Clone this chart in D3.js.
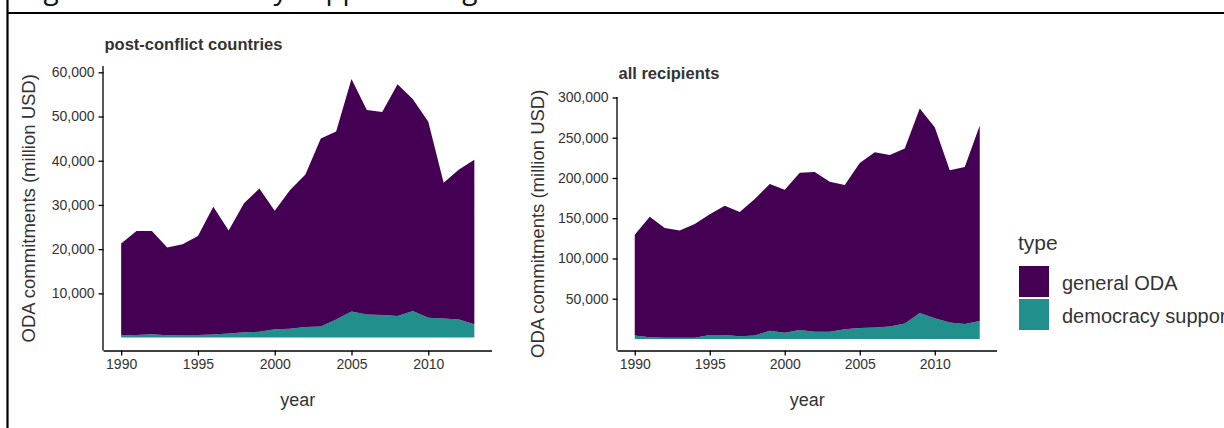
<!DOCTYPE html>
<html><head><meta charset="utf-8">
<script src="https://cdn.jsdelivr.net/npm/d3@7"></script>
<style>
body{margin:0;background:#fff;}
svg{display:block;font-family:"Liberation Sans",Arial,sans-serif;}
</style>
</head><body>
<svg id="chart" width="1224" height="428"></svg>
<script>
// ---------- data ----------
const years = [1990,1991,1992,1993,1994,1995,1996,1997,1998,1999,2000,2001,
               2002,2003,2004,2005,2006,2007,2008,2009,2010,2011,2012,2013];
const types = ["general ODA", "democracy support"];
// post-conflict countries (million USD)
const postGeneral   = [20850,23500,23350,19900,20500,22400,28900,23300,29200,32400,26800,31400,
                       34500,42500,42500,52600,46300,45900,52400,47900,44300,30700,33900,37200];
const postDemocracy = [450,600,750,500,600,600,700,900,1200,1300,1900,2000,
                       2400,2500,4100,5900,5200,5100,4900,6000,4500,4300,4100,3000];
// all recipients (million USD)
const allGeneral    = [125100,149600,136300,133400,141200,150000,160800,154200,169500,182300,177800,195600,
                       198600,186500,179100,205200,217700,213000,217200,254100,237200,189000,195200,242900];
const allDemocracy  = [4400,2300,1500,1500,1500,4800,4800,3500,4400,10200,7700,11000,
                       8900,8900,12200,13500,14300,15600,19300,32200,25900,20500,18500,22200];
const xTicks = [1990,1995,2000,2005,2010];
const postTicks = [10000,20000,30000,40000,50000,60000];
const allTicks  = [50000,100000,150000,200000,250000,300000];
const panelTitles = ["post-conflict countries", "all recipients"];
const colors = {"general ODA":"#440154", "democracy support":"#21908C"};

const svg = d3.select("#chart");

// document frame / cut-off caption (only its descenders show)
svg.append("text").attr("x",22).attr("y",-1.5)
  .style("font-family","'Open Sans',sans-serif").style("font-size","28px").attr("fill","#111")
  .text("Figure 1: Democracy support and general ODA");
svg.append("line").attr("x1",7.5).attr("x2",1224).attr("y1",13).attr("y2",13)
  .attr("stroke","#000").attr("stroke-width",2.2);
svg.append("line").attr("x1",7.5).attr("x2",7.5).attr("y1",0).attr("y2",428)
  .attr("stroke","#000").attr("stroke-width",2.2);

const fmt = d3.format(",");

function panel(opts){
  const rows = years.map((y,i)=>({year:y, "general ODA":opts.gen[i], "democracy support":opts.dem[i]}));
  const stack = d3.stack().keys(["democracy support","general ODA"]);
  const series = stack(rows);
  const maxV = d3.max(series[series.length-1], d=>d[1]);
  const ex = maxV*0.05;
  const xr = [years[0], years[years.length-1]];
  const xe = (xr[1]-xr[0])*0.05;
  const x = d3.scaleLinear().domain([xr[0]-xe, xr[1]+xe]).range([opts.left, opts.right]);
  const y = d3.scaleLinear().domain([-ex, maxV+ex]).range([opts.bottom, opts.top]);
  const g = svg.append("g");
  const area = d3.area().x(d=>x(d.data.year)).y0(d=>y(d[0])).y1(d=>y(d[1]));
  g.selectAll("path.area").data(series).join("path")
    .attr("class","area").attr("d",area).attr("fill",d=>colors[d.key]);

  const xAxis = d3.axisBottom(x).tickValues(xTicks).tickFormat(d3.format("d")).tickSize(5).tickPadding(4);
  const ga = g.append("g").attr("transform",`translate(0,${opts.bottom})`).call(xAxis);
  const yAxis = d3.axisLeft(y).tickValues(opts.ticks).tickFormat(fmt).tickSize(5).tickPadding(4);
  const gy = g.append("g").attr("transform",`translate(${opts.left},0)`).call(yAxis);
  [ga,gy].forEach(a=>{
    a.select(".domain").attr("stroke","#000").attr("stroke-width",1.3);
    a.selectAll(".tick line").attr("stroke","#000").attr("stroke-width",1.3);
    a.selectAll(".tick text").attr("fill","#333").style("font-size","14px")
      .style("font-family","'Liberation Sans',Arial,sans-serif");
  });
  ga.select(".domain").attr("d",`M${opts.left},0.5H${opts.right}`);
  gy.select(".domain").attr("d",`M-0.5,${opts.bottom}V${opts.top}`);

  g.append("text").attr("x",opts.left+1).attr("y",opts.titleY)
    .style("font-size","16.5px").style("font-weight","bold").attr("fill","#333")
    .text(opts.title);
  g.append("text").attr("x",(opts.left+opts.right)/2).attr("y",406)
    .attr("text-anchor","middle").style("font-size","18px").attr("fill","#333").text("year");
  g.append("text").attr("transform",`translate(${opts.yTitleX},${(opts.top+opts.bottom)/2}) rotate(-90)`)
    .attr("text-anchor","middle").style("font-size","18.5px").attr("fill","#333")
    .text("ODA commitments (million USD)");
}

panel({gen:postGeneral, dem:postDemocracy, ticks:postTicks, title:panelTitles[0],
       left:103.5, right:492, top:66, bottom:350.5, titleY:50, yTitleX:35});
panel({gen:allGeneral, dem:allDemocracy, ticks:allTicks, title:panelTitles[1],
       left:617.5, right:997, top:97, bottom:350.5, titleY:79, yTitleX:544});

// legend
const lg = svg.append("g");
lg.append("text").attr("x",1018).attr("y",250).style("font-size","21px").attr("fill","#333").text("type");
types.forEach((t,i)=>{
  lg.append("rect").attr("x",1019).attr("y",266+i*33).attr("width",30).attr("height",31)
    .attr("fill",colors[t]);
  lg.append("text").attr("x",1062).attr("y",290+i*33).style("font-size","20px").attr("fill","#333").text(t);
});
</script>
</body></html>
